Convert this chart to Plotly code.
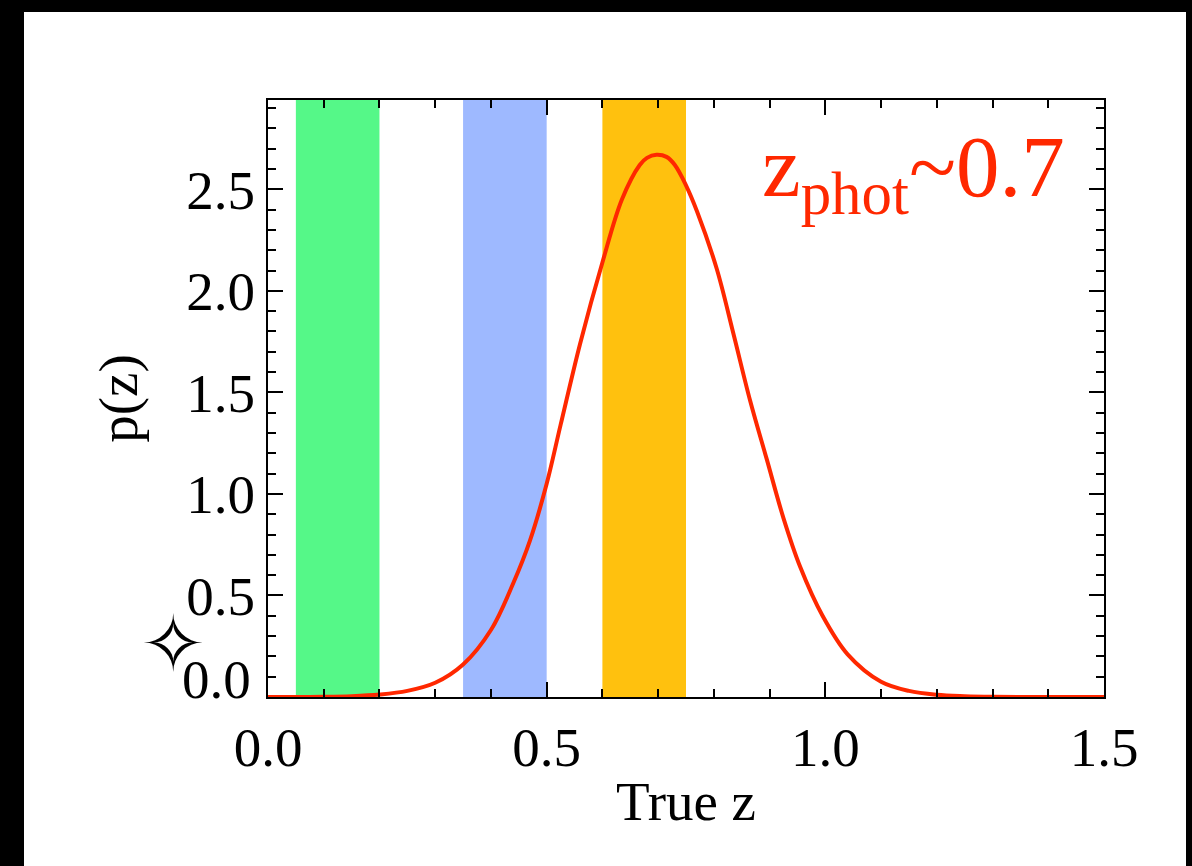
import plotly.graph_objects as go

# ---- data ----
z_true = [0.00, 0.05, 0.10, 0.15, 0.20, 0.25, 0.30, 0.35, 0.40, 0.44, 0.47, 0.50,
          0.525, 0.56, 0.60, 0.635, 0.667, 0.68, 0.697, 0.715, 0.73, 0.75, 0.77,
          0.805, 0.835, 0.865, 0.895, 0.925, 0.955, 0.995, 1.04, 1.10, 1.15, 1.20,
          1.25, 1.30, 1.40, 1.50]
p_z = [0.0, 0.0, 0.001, 0.004, 0.012, 0.03, 0.07, 0.16, 0.33, 0.56, 0.77, 1.05,
       1.34, 1.74, 2.14, 2.45, 2.62, 2.655, 2.67, 2.66, 2.62, 2.52, 2.39,
       2.11, 1.79, 1.46, 1.17, 0.88, 0.64, 0.40, 0.21, 0.075, 0.03, 0.011,
       0.004, 0.001, 0.0, 0.0]

band_start = [0.05, 0.35, 0.60]
band_end = [0.20, 0.50, 0.75]
band_colors = ["#55F888", "#9EB9FF", "#FFC10E"]

x_ticks = [0.0, 0.5, 1.0, 1.5]
y_ticks = [0.5, 1.0, 1.5, 2.0, 2.5]
y_zero_label = "0.0"
x_range = [0.0, 1.5]
y_range = [0.0, 2.94]

star_x = [-0.17]
star_y = [0.222]
star_text = ["\u2727"]

label_text = "z<sub>phot</sub>~0.7"
label_x = 1.4336
label_y = 2.585

FONT = "Liberation Serif"
RED = "#FF2800"

# ---- geometry (pixels) ----
W, H = 1192, 866
PL, PR, PT, PB = 268, 1104, 100, 697          # plot frame
px_per_x = (PR - PL) / (x_range[1] - x_range[0])
px_per_y = (PB - PT) / (y_range[1] - y_range[0])
# full-page overlay axes expressed in the same data units
x2_range = [x_range[0] - PL / px_per_x, x_range[1] + (W - PR) / px_per_x]
y2_range = [y_range[0] - (H - PB) / px_per_y, y_range[1] + PT / px_per_y]

fig = go.Figure()

shapes = [dict(type="rect", xref="paper", yref="paper",
               x0=24 / W, x1=1186 / W, y0=-0.01, y1=(H - 12) / H,
               fillcolor="white", line=dict(width=0), layer="below")]
for x0, x1, c in zip(band_start, band_end, band_colors):
    shapes.append(dict(type="rect", xref="x", yref="y", x0=x0, x1=x1,
                       y0=y_range[0], y1=y_range[1], fillcolor=c,
                       line=dict(width=0), layer="below"))

fig.add_trace(go.Scatter(x=z_true, y=p_z, mode="lines",
                         line=dict(color=RED, width=4, shape="spline", smoothing=1.0),
                         hoverinfo="skip", cliponaxis=False))

fig.add_trace(go.Scatter(x=star_x, y=star_y, mode="text", xaxis="x2", yaxis="y2",
                         text=star_text, textposition="middle center",
                         textfont=dict(family="DejaVu Sans", size=78, color="black"),
                         hoverinfo="skip"))

axis_common = dict(showline=True, linecolor="black", linewidth=2, mirror="ticks",
                   ticks="inside", ticklen=15, tickwidth=2, tickcolor="black",
                   showgrid=False, zeroline=False,
                   tickfont=dict(family=FONT, size=55, color="black"),
                   title_font=dict(family=FONT, size=55, color="black"))

fig.update_layout(
    xaxis=dict(domain=[PL / W, PR / W], range=x_range, tickvals=x_ticks, tickformat=".1f",
               minor=dict(dtick=0.1, ticks="inside", ticklen=8, tickwidth=2,
                          tickcolor="black", showgrid=False),
               title=dict(text="True z", standoff=4), ticklabelstandoff=1,
               anchor="y", **axis_common),
    yaxis=dict(domain=[(H - PB) / H, (H - PT) / H], range=y_range,
               tickvals=[0.0] + y_ticks,
               ticktext=[""] + ["%.1f" % v for v in y_ticks],
               minor=dict(dtick=0.1, ticks="inside", ticklen=8, tickwidth=2,
                          tickcolor="black", showgrid=False),
               title=dict(text="p(z)", standoff=31), ticklabelstandoff=0,
               anchor="x", **axis_common),
    xaxis2=dict(domain=[0, 1], range=x2_range, visible=False, anchor="y2",
                fixedrange=True),
    yaxis2=dict(domain=[0, 1], range=y2_range, visible=False, anchor="x2",
                fixedrange=True),
)

# bottom y label sits slightly above its tick, as in the reference
fig.add_annotation(x=-0.027, y=0.084, xref="x2", yref="y2", text=y_zero_label,
                   showarrow=False, xanchor="right", yanchor="middle",
                   font=dict(family=FONT, size=55, color="black"))

fig.add_annotation(x=label_x, y=label_y, xref="x", yref="y", text=label_text,
                   showarrow=False, xanchor="right", yanchor="middle",
                   font=dict(family=FONT, size=87, color=RED))

fig.update_layout(width=W, height=H, paper_bgcolor="black", plot_bgcolor="rgba(0,0,0,0)",
                  margin=dict(l=0, r=0, t=0, b=0, pad=0, autoexpand=False),
                  showlegend=False, shapes=shapes)

fig.write_html("out.html", config={"displayModeBar": False},
               post_script="document.body.style.margin='0';")
